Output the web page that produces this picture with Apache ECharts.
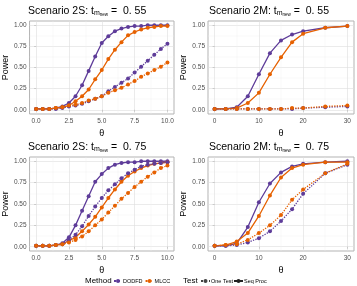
<!DOCTYPE html>
<html><head><meta charset="utf-8">
<script src="https://cdn.jsdelivr.net/npm/echarts@6/dist/echarts.min.js"></script>
<style>html,body{margin:0;padding:0;background:#fff}#c{width:357px;height:286px}</style>
</head><body><div id="c"></div>
<script>
// ---- data ----
const thetaS = [0,0.5,1,1.5,2,2.5,3,3.5,4,4.5,5,5.5,6,6.5,7,7.5,8,8.5,9,9.5,10];
const thetaM = [0,2.5,5,7.5,10,12.5,15,17.5,20,25,30];

// Scenario 2S, t = 0.55
const s55_dodfd_seq = [0.01,0.01,0.01,0.02,0.04,0.08,0.16,0.29,0.46,0.63,0.79,0.87,0.93,0.96,0.98,0.99,0.99,1.00,1.00,1.00,1.00];
const s55_mlcc_seq  = [0.01,0.01,0.01,0.02,0.03,0.05,0.10,0.16,0.24,0.36,0.47,0.60,0.71,0.80,0.88,0.92,0.95,0.97,0.98,0.99,0.99];
const s55_dodfd_one = [0.01,0.01,0.01,0.01,0.02,0.04,0.05,0.07,0.10,0.13,0.16,0.22,0.27,0.32,0.37,0.44,0.51,0.58,0.65,0.72,0.78];
const s55_mlcc_one  = [0.01,0.01,0.01,0.02,0.03,0.05,0.06,0.08,0.11,0.13,0.16,0.20,0.23,0.26,0.30,0.34,0.39,0.43,0.47,0.51,0.56];
// Scenario 2M, t = 0.55
const m55_dodfd_seq = [0.01,0.01,0.03,0.16,0.42,0.67,0.82,0.89,0.93,0.97,0.99];
const m55_mlcc_seq  = [0.01,0.01,0.02,0.08,0.20,0.42,0.62,0.80,0.90,0.97,0.99];
const m55_dodfd_one = [0.01,0.01,0.01,0.01,0.01,0.01,0.01,0.01,0.02,0.03,0.04];
const m55_mlcc_one  = [0.01,0.01,0.01,0.01,0.01,0.01,0.01,0.02,0.02,0.04,0.05];
// Scenario 2S, t = 0.75
const s75_dodfd_seq = [0.01,0.01,0.01,0.02,0.04,0.11,0.25,0.42,0.59,0.76,0.85,0.92,0.96,0.98,0.99,0.99,1.00,1.00,1.00,1.00,1.00];
const s75_mlcc_seq  = [0.01,0.01,0.01,0.02,0.03,0.07,0.11,0.18,0.26,0.35,0.46,0.57,0.67,0.76,0.83,0.88,0.92,0.95,0.97,0.98,0.99];
const s75_dodfd_one = [0.01,0.01,0.01,0.02,0.03,0.08,0.14,0.24,0.36,0.47,0.57,0.66,0.73,0.80,0.86,0.90,0.94,0.96,0.97,0.98,0.99];
const s75_mlcc_one  = [0.01,0.01,0.01,0.02,0.03,0.05,0.08,0.12,0.18,0.25,0.32,0.40,0.48,0.56,0.63,0.70,0.76,0.82,0.87,0.92,0.95];
// Scenario 2M, t = 0.75
const m75_dodfd_seq = [0.01,0.01,0.04,0.23,0.52,0.74,0.87,0.94,0.97,0.99,1.00];
const m75_mlcc_seq  = [0.01,0.02,0.06,0.16,0.36,0.60,0.81,0.92,0.96,0.99,0.99];
const m75_dodfd_one = [0.01,0.01,0.02,0.05,0.10,0.18,0.30,0.44,0.62,0.86,0.96];
const m75_mlcc_one  = [0.01,0.02,0.03,0.08,0.16,0.25,0.37,0.55,0.67,0.86,0.97];

const yTicks = [0,0.25,0.5,0.75,1];
const yMinor = [0.125,0.375,0.625,0.875];
const xTicksS = [0,2.5,5,7.5,10];
const xMinorS = [1.25,3.75,6.25,8.75];
const xTicksM = [0,10,20,30];
const xMinorM = [5,15,25];

const titles = [
  ['2S','0. 55'],['2M','0. 55'],['2S','0. 75'],['2M','0. 75']
];

// ---- styling ----
const PURPLE = '#5e3c99';
const ORANGE = '#e66101';
const FONT = 'Liberation Sans, Arial, sans-serif';
const panels = [
  {left:27, top:21, width:147, height:93, x:thetaS, xt:xTicksS, xm:xMinorS, xmin:-0.5, xmax:10.5, fmt:v=>v.toFixed(1),
   d:[s55_dodfd_seq,s55_mlcc_seq,s55_dodfd_one,s55_mlcc_one]},
  {left:208, top:21, width:146, height:93, x:thetaM, xt:xTicksM, xm:xMinorM, xmin:-1.5, xmax:31.5, fmt:v=>String(v),
   d:[m55_dodfd_seq,m55_mlcc_seq,m55_dodfd_one,m55_mlcc_one]},
  {left:27, top:157, width:147, height:94, x:thetaS, xt:xTicksS, xm:xMinorS, xmin:-0.5, xmax:10.5, fmt:v=>v.toFixed(1),
   d:[s75_dodfd_seq,s75_mlcc_seq,s75_dodfd_one,s75_mlcc_one]},
  {left:208, top:157, width:146, height:94, x:thetaM, xt:xTicksM, xm:xMinorM, xmin:-1.5, xmax:31.5, fmt:v=>String(v),
   d:[m75_dodfd_seq,m75_mlcc_seq,m75_dodfd_one,m75_mlcc_one]}
];

const grid=[], xAxis=[], yAxis=[], series=[], title=[];
panels.forEach((p,i)=>{
  grid.push({left:p.left, top:p.top, width:p.width, height:p.height, show:true, borderColor:'#b3b3b3', borderWidth:1, backgroundColor:'#fff'});
  xAxis.push({type:'value', gridIndex:i, min:p.xmin, max:p.xmax, name:'θ', nameLocation:'middle', nameGap:15,
    nameTextStyle:{fontFamily:FONT, fontSize:9, color:'#000'},
    axisLine:{show:false},
    axisTick:{show:true, length:2, lineStyle:{color:'#b3b3b3', width:0.6}, customValues:p.xt},
    axisLabel:{fontFamily:FONT, fontSize:6.5, color:'#4d4d4d', margin:4, customValues:p.xt, formatter:p.fmt},
    splitLine:{show:true, lineStyle:{color:'#dedede', width:0.6}}});
  xAxis.push({type:'value', gridIndex:i, min:p.xmin, max:p.xmax, position:'bottom',
    axisLine:{show:false}, axisTick:{show:false, customValues:p.xm}, axisLabel:{show:false},
    splitLine:{show:true, lineStyle:{color:'#efefef', width:0.4}}});
  yAxis.push({type:'value', gridIndex:i, min:-0.05, max:1.05, name:'Power', nameLocation:'middle', nameGap:18, nameRotate:90,
    nameTextStyle:{fontFamily:FONT, fontSize:9, color:'#000'},
    axisLine:{show:false},
    axisTick:{show:true, length:2, lineStyle:{color:'#b3b3b3', width:0.6}, customValues:yTicks},
    axisLabel:{fontFamily:FONT, fontSize:6.5, color:'#4d4d4d', margin:3, customValues:yTicks, formatter:v=>v.toFixed(2)},
    splitLine:{show:true, lineStyle:{color:'#dedede', width:0.6}}});
  yAxis.push({type:'value', gridIndex:i, min:-0.05, max:1.05,
    axisLine:{show:false}, axisTick:{show:false, customValues:yMinor}, axisLabel:{show:false},
    splitLine:{show:true, lineStyle:{color:'#efefef', width:0.4}}});
  const names=['DODFD','MLCC','DODFD','MLCC'];
  const cols=[PURPLE,ORANGE,PURPLE,ORANGE];
  const types=['solid','solid','dotted','dotted'];
  const order=[2,3,0,1];
  order.forEach(k=>{
    series.push({type:'line', name:names[k], xAxisIndex:2*i, yAxisIndex:2*i,
      data:p.x.map((xv,j)=>[xv,p.d[k][j]]),
      symbol:'circle', symbolSize:4, showSymbol:true,
      color:cols[k], itemStyle:{color:cols[k]},
      lineStyle:{color:cols[k], width:1.3, type:types[k]},
      silent:true, animation:false, z:10+k});
  });
  title.push({left:p.left+1, top:p.top-20, padding:0,
    text:'{a|Scenario '+titles[i][0]+': t}{b|m}{c|new}{a| =  '+titles[i][1]+'}',
    textStyle:{fontWeight:'normal', rich:{
      a:{fontFamily:FONT, fontSize:10.5, fontWeight:'normal', color:'#000', lineHeight:16, verticalAlign:'bottom'},
      b:{fontFamily:FONT, fontSize:7, fontWeight:'normal', color:'#000', lineHeight:8, verticalAlign:'bottom'},
      c:{fontFamily:FONT, fontSize:4.5, fontWeight:'normal', color:'#000', lineHeight:3, verticalAlign:'bottom'}
    }}});
});
// legend dummies
series.push({type:'line', name:'One Test', data:[], xAxisIndex:0, yAxisIndex:0, symbol:'none', color:'#444', lineStyle:{color:'#444', type:'dotted', width:1.3}});
series.push({type:'line', name:'Seq Proc', data:[], xAxisIndex:0, yAxisIndex:0, symbol:'none', color:'#222', lineStyle:{color:'#222', type:'solid', width:1.6}});

const option = {
  animation:false,
  title:title,
  grid:grid, xAxis:xAxis, yAxis:yAxis, series:series,
  legend:[
    {data:['DODFD','MLCC'], left:113, top:278, padding:0, itemWidth:8, itemHeight:5, itemGap:2, selectedMode:false,
     textStyle:{fontFamily:FONT, fontSize:5.5, color:'#000', padding:[0,0,0,-4]}},
    {data:['One Test','Seq Proc'], left:200, top:278, padding:0, itemWidth:9, itemHeight:5, itemGap:0, selectedMode:false,
     textStyle:{fontFamily:FONT, fontSize:5.5, color:'#000', padding:[0,0,0,-4]}}
  ],
  graphic:[
    {type:'text', x:85, y:281, style:{text:'Method', font:'8px '+FONT, fill:'#000', verticalAlign:'middle'}},
    {type:'text', x:183, y:281, style:{text:'Test', font:'8px '+FONT, fill:'#000', verticalAlign:'middle'}}
  ]
};
const chart = echarts.init(document.getElementById('c'), null, {renderer:'canvas'});
chart.setOption(option);
</script></body></html>
